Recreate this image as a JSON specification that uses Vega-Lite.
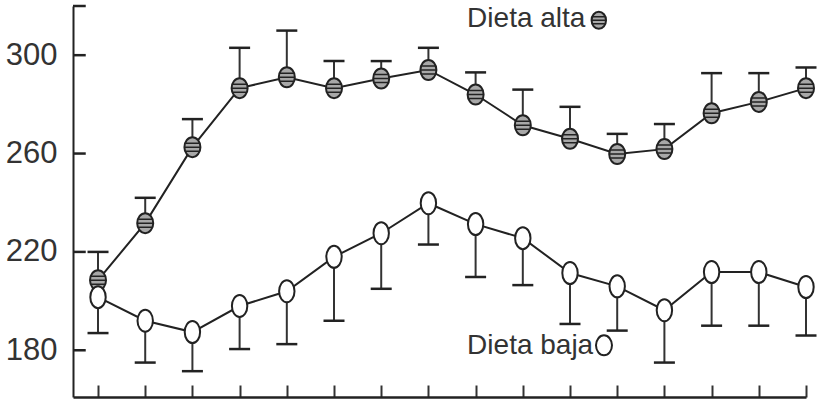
{
 "$schema": "https://vega.github.io/schema/vega-lite/v6.json",
 "width": 733, "height": 391,
 "autosize": {"type": "none"},
 "padding": {"left": 73, "top": 6, "right": 13, "bottom": 2},
 "background": "white",
 "config": {"view": {"stroke": null}, "axis": {"grid": false}},
 "datasets": {
  "serie": [
   {"idx":1,"dieta":"alta","media":208.5,"extremo":220},
   {"idx":2,"dieta":"alta","media":231.7,"extremo":242},
   {"idx":3,"dieta":"alta","media":262.6,"extremo":274},
   {"idx":4,"dieta":"alta","media":286.6,"extremo":303},
   {"idx":5,"dieta":"alta","media":291,"extremo":310},
   {"idx":6,"dieta":"alta","media":286.6,"extremo":297.6},
   {"idx":7,"dieta":"alta","media":290.5,"extremo":297.6},
   {"idx":8,"dieta":"alta","media":294,"extremo":303},
   {"idx":9,"dieta":"alta","media":284,"extremo":293},
   {"idx":10,"dieta":"alta","media":271.5,"extremo":286},
   {"idx":11,"dieta":"alta","media":266,"extremo":279},
   {"idx":12,"dieta":"alta","media":259.8,"extremo":268},
   {"idx":13,"dieta":"alta","media":261.8,"extremo":272},
   {"idx":14,"dieta":"alta","media":276.4,"extremo":292.7},
   {"idx":15,"dieta":"alta","media":281,"extremo":292.7},
   {"idx":16,"dieta":"alta","media":286.6,"extremo":295},
   {"idx":1,"dieta":"baja","media":201.6,"extremo":187},
   {"idx":2,"dieta":"baja","media":192,"extremo":175},
   {"idx":3,"dieta":"baja","media":187.4,"extremo":171.5},
   {"idx":4,"dieta":"baja","media":198,"extremo":180.5},
   {"idx":5,"dieta":"baja","media":204,"extremo":182.5},
   {"idx":6,"dieta":"baja","media":218,"extremo":192},
   {"idx":7,"dieta":"baja","media":227.6,"extremo":205},
   {"idx":8,"dieta":"baja","media":239.8,"extremo":223},
   {"idx":9,"dieta":"baja","media":231.3,"extremo":209.8},
   {"idx":10,"dieta":"baja","media":225.6,"extremo":206.5},
   {"idx":11,"dieta":"baja","media":211.4,"extremo":190.7},
   {"idx":12,"dieta":"baja","media":206,"extremo":188},
   {"idx":13,"dieta":"baja","media":196.3,"extremo":175},
   {"idx":14,"dieta":"baja","media":211.8,"extremo":190},
   {"idx":15,"dieta":"baja","media":211.8,"extremo":190},
   {"idx":16,"dieta":"baja","media":205.7,"extremo":186}
  ],
  "marcasY": [
   {"idx":0.47,"fin":0.74,"media":180},
   {"idx":0.47,"fin":0.74,"media":220},
   {"idx":0.47,"fin":0.74,"media":260},
   {"idx":0.47,"fin":0.74,"media":300},
   {"idx":0.47,"fin":0.74,"media":320}
  ],
  "etiquetas": [
   {"idx":8.82,"media":311.4,"texto":"Dieta alta"},
   {"idx":8.82,"media":178.6,"texto":"Dieta baja"}
  ],
  "simbolos": [
   {"idx":11.61,"media":314.2,"dieta":"alta"},
   {"idx":11.72,"media":182,"dieta":"baja"}
  ]
 },
 "layer": [
  {
   "data": {"name": "serie"},
   "mark": {"type": "rule", "color": "#333", "strokeWidth": 2},
   "encoding": {
    "x": {"field": "idx", "type": "quantitative",
          "scale": {"domain": [0.47, 16], "nice": false, "zero": false},
          "axis": {"title": null, "labels": false, "values": [1,2,3,4,5,6,7,8,9,10,11,12,13,14,15,16],
                   "ticks": true, "tickSize": -12, "tickWidth": 2, "tickColor": "#333", "domainColor": "#222", "domainWidth": 2.5}},
    "y": {"field": "media", "type": "quantitative",
          "scale": {"domain": [161, 320], "nice": false, "zero": false},
          "axis": {"title": null, "values": [180,220,260,300],
                   "labelFont": "Liberation Sans", "labelFontSize": 31, "labelColor": "#333",
                   "labelPadding": 16, "ticks": false,
                   "domainColor": "#222", "domainWidth": 2}},
    "y2": {"field": "extremo"}
   }
  },
  {
   "data": {"name": "marcasY"},
   "mark": {"type": "rule", "color": "#222", "strokeWidth": 2.5},
   "encoding": {
    "x": {"field": "idx", "type": "quantitative"},
    "x2": {"field": "fin"},
    "y": {"field": "media", "type": "quantitative"}
   }
  },
  {
   "data": {"name": "serie"},
   "mark": {"type": "tick", "orient": "horizontal", "size": 21, "thickness": 2.5, "color": "#222", "opacity": 1},
   "encoding": {
    "x": {"field": "idx", "type": "quantitative"},
    "y": {"field": "extremo", "type": "quantitative"}
   }
  },
  {
   "data": {"name": "serie"},
   "mark": {"type": "line", "color": "#222", "strokeWidth": 2},
   "encoding": {
    "x": {"field": "idx", "type": "quantitative"},
    "y": {"field": "media", "type": "quantitative"},
    "detail": {"field": "dieta"}
   }
  },
  {
   "data": {"name": "serie"},
   "transform": [{"filter": "datum.dieta == 'alta'"}],
   "mark": {"type": "point", "filled": false, "fill": "#a8a8a8", "fillOpacity": 1, "stroke": "#222", "strokeWidth": 2, "opacity": 1,
            "shape": "M0,-1A0.8,1 0 1,1 0,1A0.8,1 0 1,1 0,-1Z", "size": 400},
   "encoding": {
    "x": {"field": "idx", "type": "quantitative"},
    "y": {"field": "media", "type": "quantitative"}
   }
  },
  {
   "data": {"name": "serie"},
   "transform": [{"filter": "datum.dieta == 'alta'"}],
   "mark": {"type": "point", "filled": false, "stroke": "#222", "strokeWidth": 1.5, "opacity": 1,
            "shape": "M-0.7,-0.4H0.7M-0.8,0H0.8M-0.7,0.4H0.7", "size": 400},
   "encoding": {
    "x": {"field": "idx", "type": "quantitative"},
    "y": {"field": "media", "type": "quantitative"}
   }
  },
  {
   "data": {"name": "serie"},
   "transform": [{"filter": "datum.dieta == 'baja'"}],
   "mark": {"type": "point", "filled": false, "fill": "white", "fillOpacity": 1, "stroke": "#222", "strokeWidth": 2, "opacity": 1,
            "shape": "M0,-1A0.7,1 0 1,1 0,1A0.7,1 0 1,1 0,-1Z", "size": 484},
   "encoding": {
    "x": {"field": "idx", "type": "quantitative"},
    "y": {"field": "media", "type": "quantitative"}
   }
  },
  {
   "data": {"name": "etiquetas"},
   "mark": {"type": "text", "align": "left", "baseline": "alphabetic", "font": "Liberation Sans", "fontSize": 28, "color": "#333"},
   "encoding": {
    "x": {"field": "idx", "type": "quantitative"},
    "y": {"field": "media", "type": "quantitative"},
    "text": {"field": "texto"}
   }
  },
  {
   "data": {"name": "simbolos"},
   "transform": [{"filter": "datum.dieta == 'alta'"}],
   "mark": {"type": "point", "filled": false, "fill": "#a8a8a8", "fillOpacity": 1, "stroke": "#222", "strokeWidth": 2, "opacity": 1,
            "shape": "M0,-1A0.85,1 0 1,1 0,1A0.85,1 0 1,1 0,-1Z", "size": 289},
   "encoding": {
    "x": {"field": "idx", "type": "quantitative"},
    "y": {"field": "media", "type": "quantitative"}
   }
  },
  {
   "data": {"name": "simbolos"},
   "transform": [{"filter": "datum.dieta == 'alta'"}],
   "mark": {"type": "point", "filled": false, "stroke": "#222", "strokeWidth": 1.5, "opacity": 1,
            "shape": "M-0.7,-0.4H0.7M-0.85,0H0.85M-0.7,0.4H0.7", "size": 289},
   "encoding": {
    "x": {"field": "idx", "type": "quantitative"},
    "y": {"field": "media", "type": "quantitative"}
   }
  },
  {
   "data": {"name": "simbolos"},
   "transform": [{"filter": "datum.dieta == 'baja'"}],
   "mark": {"type": "point", "filled": false, "fill": "white", "fillOpacity": 1, "stroke": "#222", "strokeWidth": 2, "opacity": 1,
            "shape": "M0,-1A0.8,1 0 1,1 0,1A0.8,1 0 1,1 0,-1Z", "size": 400},
   "encoding": {
    "x": {"field": "idx", "type": "quantitative"},
    "y": {"field": "media", "type": "quantitative"}
   }
  }
 ]
}
